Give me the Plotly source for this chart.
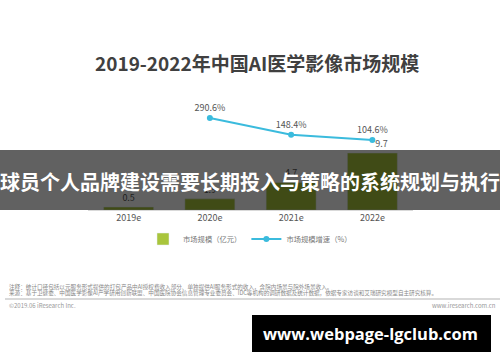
import plotly.graph_objects as go

years = ["2019e", "2020e", "2021e", "2022e"]
market_size = [0.5, 1.9, 4.7, 9.7]
growth_years = ["2020e", "2021e", "2022e"]
growth_rate = [290.6, 148.4, 104.6]
size_labels = ["0.5", "1.9", "4.7", "9.7"]
growth_labels = ["290.6%", "148.4%", "104.6%"]

title_text = "2019-2022年中国AI医学影像市场规模"
banner_text = "球员个人品牌建设需要长期投入与策略的系统规划与执行"
note_text = "注释：统计口径包括以元服务形式提供的打包产品中AI授权费收入部分、单独提供AI服务形式的收入，含院内场景与院外场景收入。"
source_text = "来源：基于卫健委、中国医学影像AI产学研用创新联盟、中国医院协会信息管理专业委员会、IDC等机构的调研数据及统计数据，依据专家访谈和艾瑞研究模型自主研究核算。"
copyright_text = "©2019.06 iResearch Inc."
site_text = "www.iresearch.com.cn"
watermark_text = "www.webpage-lgclub.com"

W, H = 500, 362
L, R, T, B = 88, 87, 100, 152  # plot area x 88..413, y 100..210
pw, ph = W - L - R, H - T - B

def px(x):
    return (x - L) / pw

def py(y):
    return (H - B - y) / ph

CJK = "Noto Sans CJK SC"

# last bar label nudged right so it clears the line marker, as in the reference
bar_text = size_labels[:-1] + ["\u00a0" * 9 + size_labels[-1]]

fig = go.Figure()
fig.add_trace(go.Bar(
    x=years, y=market_size, name="市场规模（亿元）",
    marker=dict(color="#a9c53c"), width=0.615,
    text=bar_text, textposition="outside", cliponaxis=False,
    textfont=dict(size=9, color="#555", family=CJK),
))
fig.add_trace(go.Scatter(
    x=growth_years, y=growth_rate, name="市场规模增速（%）", yaxis="y2",
    mode="lines+markers+text", line=dict(color="#3bbbdd", width=2),
    marker=dict(size=6, color="#3bbbdd"),
    text=growth_labels, textposition="top center", cliponaxis=False,
    textfont=dict(size=9, color="#555", family=CJK),
))

shapes = [
    dict(type="rect", xref="paper", yref="paper", x0=px(-5), x1=px(505),
         y0=py(210), y1=py(150), fillcolor="rgba(0,0,0,0.62)", line=dict(width=0), layer="above"),
    dict(type="line", xref="paper", yref="paper", x0=px(5), x1=px(500),
         y0=py(299), y1=py(299), line=dict(color="#cccccc", width=1.5)),
    dict(type="rect", xref="paper", yref="paper", x0=px(252), x1=px(491),
         y0=py(352), y1=py(315), fillcolor="#000000", line=dict(width=0), layer="above"),
]

annotations = [
    dict(text="<b>" + title_text + "</b>", xref="paper", yref="paper", x=px(257), y=py(63),
         showarrow=False, font=dict(size=19, color="#404040", family=CJK), xanchor="center", yanchor="middle"),
    dict(text="<b>" + banner_text + "</b>", xref="paper", yref="paper", x=px(250), y=py(181),
         showarrow=False, font=dict(size=20, color="#ffffff", family=CJK), xanchor="center", yanchor="middle"),
    dict(text=note_text, xref="paper", yref="paper", x=px(7), y=py(287),
         showarrow=False, font=dict(size=5.6, color="#888", family=CJK), xanchor="left", yanchor="middle"),
    dict(text=source_text, xref="paper", yref="paper", x=px(7), y=py(293),
         showarrow=False, font=dict(size=5.6, color="#888", family=CJK), xanchor="left", yanchor="middle"),
    dict(text=copyright_text, xref="paper", yref="paper", x=px(7), y=py(305),
         showarrow=False, font=dict(size=6, color="#999", family=CJK), xanchor="left", yanchor="middle"),
    dict(text=site_text, xref="paper", yref="paper", x=px(498), y=py(305),
         showarrow=False, font=dict(size=6, color="#999", family=CJK), xanchor="right", yanchor="middle"),
    dict(text="<b>" + watermark_text + "</b>", xref="paper", yref="paper", x=px(370), y=py(333.5),
         showarrow=False, font=dict(size=16.5, color="#ffffff", family="Open Sans"), xanchor="center", yanchor="middle"),
]

fig.update_layout(
    width=W, height=H, margin=dict(l=L, r=R, t=T, b=B, autoexpand=False),
    paper_bgcolor="white", plot_bgcolor="white",
    showlegend=True,
    legend=dict(orientation="h", x=px(250), xanchor="center", y=py(239), yanchor="middle",
                itemwidth=30, font=dict(size=7.3, color="#777", family=CJK), bgcolor="rgba(0,0,0,0)"),
    xaxis=dict(range=[-0.5, 3.5], showgrid=False, showline=True, linecolor="#d9d9d9", linewidth=1,
               ticks="", ticklabelstandoff=-1, tickfont=dict(size=9, color="#555", family=CJK), fixedrange=True),
    yaxis=dict(range=[0, ph / 5.876], visible=False, showgrid=False),
    yaxis2=dict(range=[-489, 443], overlaying="y", visible=False, showgrid=False),
    shapes=shapes, annotations=annotations,
    font=dict(family=CJK),
)

fig.write_html("out.html", config={"displayModeBar": False},
               post_script="document.body.style.margin='0';document.body.style.overflow='hidden';")
